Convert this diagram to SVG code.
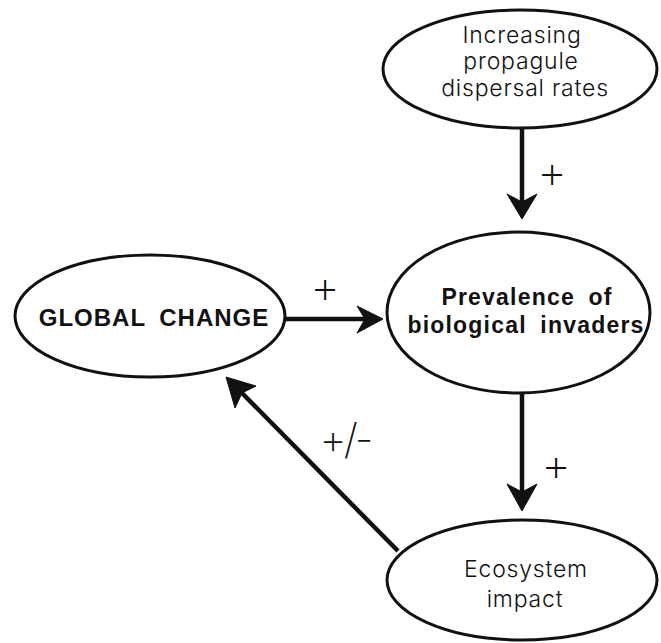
<svg xmlns="http://www.w3.org/2000/svg" width="661" height="643" viewBox="0 0 661 643">
<style>
.node ellipse{fill:#fff;stroke:#111;stroke-width:3}
.lt{font-family:Inter,"Liberation Sans",Arial,sans-serif;font-weight:300;font-size:23px;fill:#111;text-anchor:middle;letter-spacing:0.8px}
.bd{font-family:"Liberation Sans",Arial,sans-serif;font-size:23px;font-weight:bold;fill:#111;text-anchor:middle;letter-spacing:1.2px;word-spacing:6px}
.sign{font-family:Inter,"Liberation Sans",Arial,sans-serif;font-weight:200;font-size:46px;fill:#111;text-anchor:middle}
.conn line{stroke:#111;stroke-width:4.5}
.conn polygon{fill:#111;stroke:#111;stroke-width:1}
</style>
<rect width="661" height="643" fill="#fff"/>
<g id="dispersal" class="node">
<ellipse cx="520" cy="69" rx="137" ry="59"/>
<text class="lt" x="522" y="43">Increasing</text>
<text class="lt" x="521" y="69">propagule</text>
<text class="lt" x="525" y="96">dispersal rates</text>
</g>
<g id="prevalence" class="node">
<ellipse cx="518.5" cy="312.5" rx="131.5" ry="80.5"/>
<text class="bd" x="527" y="305">Prevalence of</text>
<text class="bd" x="526" y="333">biological invaders</text>
</g>
<g id="global" class="node">
<ellipse cx="150" cy="316" rx="135" ry="61"/>
<text class="bd" x="154" y="326" style="font-size:24px;letter-spacing:1px">GLOBAL  CHANGE</text>
</g>
<g id="impact" class="node">
<ellipse cx="522" cy="580" rx="135" ry="60"/>
<text class="lt" x="526" y="577">Ecosystem</text>
<text class="lt" x="525" y="607">impact</text>
</g>
<g id="connectors" class="conn">
<line x1="522" y1="128" x2="522" y2="202"/>
<polygon points="507,194 522,219 537,194 522,202"/>
<line x1="522" y1="393" x2="522" y2="492"/>
<polygon points="507,484 522,511 537,484 522,492"/>
<line x1="285" y1="319" x2="366" y2="319"/>
<polygon points="357,306 383,319 357,333 365,319"/>
<line x1="398" y1="551" x2="242" y2="393"/>
<polygon points="226,377 256,386 242,393 235,408"/>
</g>
<g id="labels">
<text class="sign" x="552" y="188">+</text>
<text class="sign" x="556" y="481">+</text>
<text class="sign" x="325" y="303">+</text>
<text class="sign" x="345" y="454" style="font-size:42px;letter-spacing:-3px">+/-</text>
</g>
</svg>
